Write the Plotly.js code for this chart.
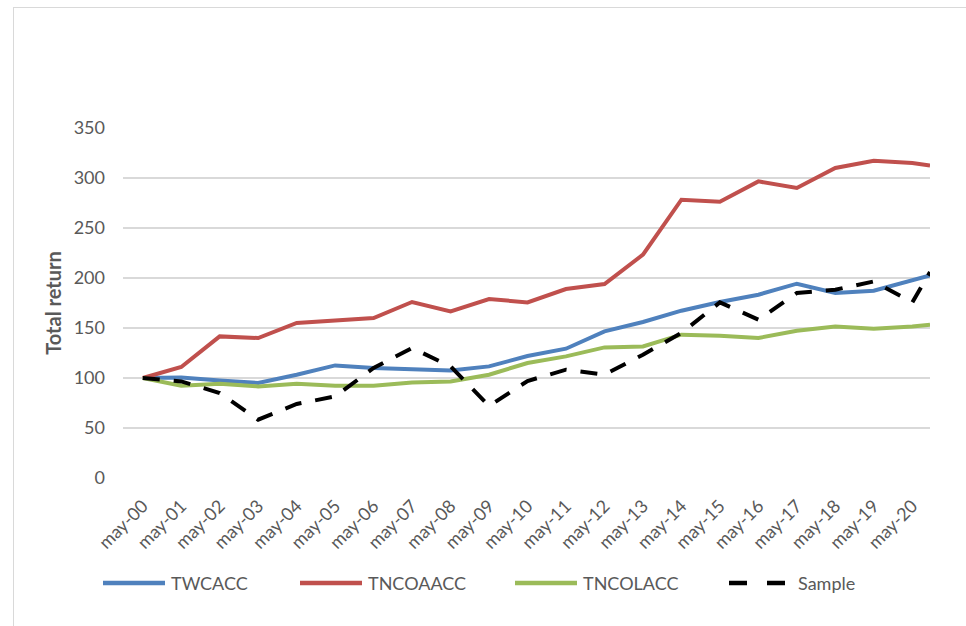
<!DOCTYPE html>
<html>
<head>
<meta charset="utf-8">
<script src="https://cdn.plot.ly/plotly-3.0.1.min.js"></script>
<style>
  html, body { margin: 0; padding: 0; background: #fff; overflow: hidden; }
  #frame { position: absolute; left: 13px; top: 7px; width: 1100px; height: 800px;
           border: 1.5px solid #d9d9d9; pointer-events: none; z-index: 2; }
  #chart { position: absolute; left: 0; top: 0; width: 966px; height: 626px; }
</style>
</head>
<body>
<div id="chart"></div>
<div id="frame"></div>
<script>
// Observation dates (yearly, May) plus the latest reading
const dates = ['2000-05-31','2001-05-31','2002-05-31','2003-05-31','2004-05-31','2005-05-31',
  '2006-05-31','2007-05-31','2008-05-31','2009-05-31','2010-05-31','2011-05-31','2012-05-31',
  '2013-05-31','2014-05-31','2015-05-31','2016-05-31','2017-05-31','2018-05-31','2019-05-31',
  '2020-05-31','2020-11-15'];

// Tick positions and labels on the time axis
const tickDates = dates.slice(0, 21);
const tickLabels = ['may-00','may-01','may-02','may-03','may-04','may-05','may-06','may-07',
  'may-08','may-09','may-10','may-11','may-12','may-13','may-14','may-15','may-16','may-17',
  'may-18','may-19','may-20'];

// Total return indices (base 100)
const TWCACC   = [100, 100.6, 97.6, 95, 103.3, 112.6, 110, 108.6, 107.6, 111.6, 122,
                  129.3, 146.6, 156, 167.3, 176, 183.3, 194.3, 185, 187.3, 198, 202.6];
const TNCOAACC = [100, 111, 141.6, 140, 155, 157.6, 160, 176, 166.6, 179, 175.6,
                  189, 194, 223.3, 278.3, 276.3, 296.6, 290, 310, 317.3, 315, 312.6];
const TNCOLACC = [100, 92.3, 94.3, 91.6, 94.3, 92.3, 92.3, 95.6, 96.6, 103.3, 115,
                  121.6, 130.6, 131.6, 143.3, 142.3, 140, 147.3, 151.6, 149.3, 151.6, 153.3];
const Sample   = [100, 96.6, 85, 58.3, 74, 81.6, 110, 130, 111.6, 72, 97,
                  108.3, 103.3, 123.3, 145, 175.6, 158.3, 185, 188.3, 196.6, 175.6, 206];

const seriesNames = ['TWCACC', 'TNCOAACC', 'TNCOLACC', 'Sample'];
const seriesValues = [TWCACC, TNCOAACC, TNCOLACC, Sample];
const seriesColors = ['#4F81BD', '#C0504D', '#9BBB59', '#000000'];
const seriesDash = ['solid', 'solid', 'solid', '17px,14px'];

const traces = seriesNames.map((name, i) => ({
  type: 'scatter', mode: 'lines', name: name,
  x: dates, y: seriesValues[i],
  line: { color: seriesColors[i], width: 4, dash: seriesDash[i] },
  showlegend: false
}));

// Plot area geometry in pixels (used to place the custom legend)
const W = 966, H = 626, L = 123, R = 36, T = 128, B = 148;
const pw = W - L - R, ph = H - T - B;
const px = x => (x - L) / pw;
const py = y => (H - B - y) / ph;

const FONT = 'Lato, sans-serif';
const GREY = '#595959';

// Custom legend: long swatch lines followed by labels
const legendStart = [103, 300, 515, 729];
const legendLen = [62, 62, 62, 56];
const legendY = 583;
const legendDash = ['solid', 'solid', 'solid', '18px,20px'];
const shapes = [];
const annotations = [];
seriesNames.forEach((name, i) => {
  shapes.push({
    type: 'line', xref: 'paper', yref: 'paper',
    x0: px(legendStart[i]), x1: px(legendStart[i] + legendLen[i]),
    y0: py(legendY), y1: py(legendY),
    line: { color: seriesColors[i], width: 4.5, dash: legendDash[i] }
  });
  annotations.push({
    xref: 'paper', yref: 'paper', showarrow: false,
    x: px(legendStart[i] + legendLen[i] + (i === 3 ? 11 : 4)), y: py(legendY),
    xanchor: 'left', yanchor: 'middle', text: name,
    font: { family: FONT, size: 18, color: GREY }
  });
});

const layout = {
  width: W, height: H,
  margin: { l: L, r: R, t: T, b: B },
  paper_bgcolor: '#ffffff', plot_bgcolor: '#ffffff',
  showlegend: false,
  xaxis: {
    type: 'date',
    range: ['1999-11-25', '2020-11-15'],
    tickmode: 'array', tickvals: tickDates, ticktext: tickLabels,
    tickangle: -45, ticks: '', showgrid: false, zeroline: false, showline: false,
    ticklabelstandoff: 13,
    tickfont: { family: FONT, size: 18, color: GREY }
  },
  yaxis: {
    range: [0, 350], tickvals: [0, 50, 100, 150, 200, 250, 300, 350],
    ticks: '', showline: false, zeroline: false,
    gridcolor: '#d9d9d9', gridwidth: 1.5,
    ticklabelstandoff: 17,
    tickfont: { family: FONT, size: 18, color: GREY },
    title: { text: '<b>Total return</b>', standoff: 6,
             font: { family: FONT, size: 20, color: GREY } }
  },
  shapes: shapes,
  annotations: annotations
};

Plotly.newPlot('chart', traces, layout, { displayModeBar: false, staticPlot: true });
</script>
</body>
</html>
